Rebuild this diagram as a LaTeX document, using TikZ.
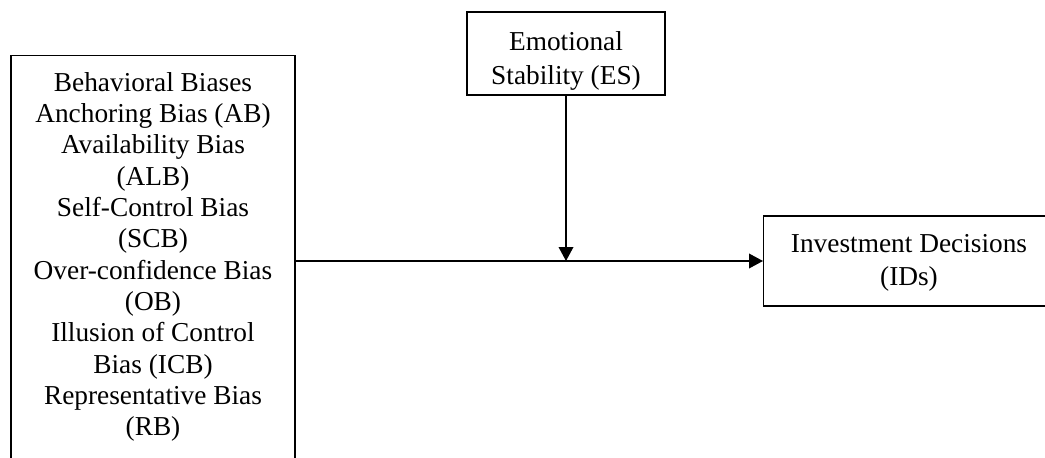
\documentclass[tikz,border=0pt]{standalone}
\usepackage{fontspec}
\setmainfont{Liberation Serif}
\usepackage{tikz}
\usetikzlibrary{arrows.meta}

\begin{document}
\begin{tikzpicture}[x=0.75pt,y=-0.75pt]
	\useasboundingbox (0,0) rectangle (1045,457);
	\clip (0,0) rectangle (1045,457);
	\begin{scope}[every node/.style = {rectangle, draw, line width=1.1pt, align=center,
		inner sep=0pt, font=\fontsize{20.5}{23.5}\selectfont}]
		\node[minimum width=213pt, minimum height=302pt] (BB) at (153,257) {Behavioral Biases\\Anchoring Bias (AB)\\Availability Bias\\(ALB)\\Self-Control Bias\\(SCB)\\Over-confidence Bias\\(OB)\\Illusion of Control\\Bias (ICB)\\Representative Bias\\(RB)};
		\node[minimum width=148.5pt, minimum height=62.25pt] (ES) at (566,53.5) {};
		\node[draw=none, font=\fontsize{20.5}{25}\selectfont] (EStext) at (566,61) {Emotional\\Stability (ES)};
		\node[minimum width=240pt, minimum height=67.5pt, anchor=west] (ID) at (763,261) {};
		\node[draw=none, font=\fontsize{20.5}{25}\selectfont] (IDtext) at (909,263) {Investment Decisions\\(IDs)};
	\end{scope}
	\coordinate (M) at (ES.south |- ID.west);
	\begin{scope}[>={Triangle[length=10.5pt, width=11pt]},
			every edge/.style={draw=black, line width=1.1pt}]
		\path [->] (BB.east |- ID.west) edge (ID.west);
		\path [->] (ES.south) edge (M);
	\end{scope}
\end{tikzpicture}
\end{document}
